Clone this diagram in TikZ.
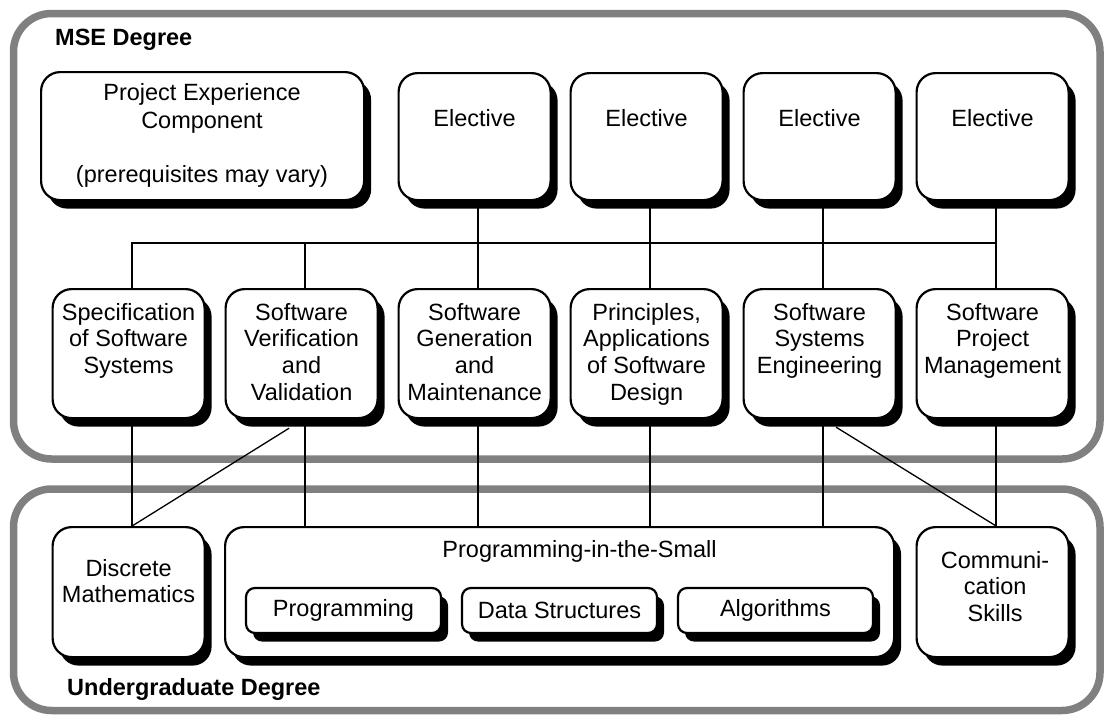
\documentclass[tikz,border=0pt]{standalone}
\usepackage{fontspec}
\setmainfont{Liberation Sans}
\usetikzlibrary{shadows,backgrounds}
\newcommand{\ml}[1]{\begin{tabular}[t]{@{}c@{}}#1\end{tabular}}
\begin{document}
\begin{tikzpicture}[x=1pt,y=-1pt,
  every node/.style={font=\fontsize{23.5}{26.7}\selectfont, inner sep=0pt},
  box/.style={draw=black, line width=2.2pt, fill=white, rounded corners=19pt,
    minimum width=152pt, minimum height=129pt, anchor=north west,
    drop shadow={shadow xshift=7pt, shadow yshift=-8.5pt, fill=black, opacity=1}},
  sbox/.style={box, rounded corners=9pt, minimum width=195pt, minimum height=45pt, anchor=center},
  txt/.style={anchor=base},
  frame/.style={draw=black!50, line width=7.5pt, rounded corners=38pt},
  conn/.style={line width=2pt},
  diag/.style={line width=1.3pt},
  lbl/.style={anchor=base west, font=\fontsize{23.5}{26.7}\selectfont\bfseries}
]
\useasboundingbox (0,0) rectangle (1104,715);

% top row
\node[box, minimum width=323pt, minimum height=128pt] (pec) at (40,71) {};
\node[box, minimum height=127pt] (e1) at (397.5,72) {};
\node[box, minimum height=127pt] (e2) at (569.5,72) {};
\node[box, minimum height=127pt] (e3) at (742.5,72) {};
\node[box, minimum height=127pt] (e4) at (915.5,72) {};

% middle row
\node[box] (spec) at (51.5,288) {};
\node[box] (ver)  at (224.5,288) {};
\node[box] (gen)  at (397.5,288) {};
\node[box] (prin) at (569.5,288) {};
\node[box] (sse)  at (742.5,288) {};
\node[box] (pm)   at (915.5,288) {};

% bottom row
\node[box, minimum height=130pt] (dm) at (51.5,526) {};
\node[box, minimum width=669pt, minimum height=130pt] (pits) at (224,526) {};
\node[box, minimum height=130pt] (cs) at (915.5,526) {};
\node[sbox] (prog) at (343.5,610.5) {Programming};
\node[sbox] (ds)   at (559.5,610.5) {Data Structures};
\node[sbox] (alg)  at (775.5,610.5) {Algorithms};

% texts
\node[txt] (tpec) at (202,100) {\ml{Project Experience\\[1.5pt]Component\\ \\[1pt](prerequisites may vary)}};
\foreach \n in {e1,e2,e3,e4}
  \node[txt] (t\n) at ([yshift=-54pt]\n.north) {Elective};
\node[txt] (tspec) at ([yshift=-32pt]spec.north) {\ml{Specification\\of Software\\Systems}};
\node[txt] (tver)  at ([yshift=-32pt]ver.north)  {\ml{Software\\Verification\\and\\Validation}};
\node[txt] (tgen)  at ([yshift=-32pt]gen.north)  {\ml{Software\\Generation\\and\\Maintenance}};
\node[txt] (tprin) at ([yshift=-32pt]prin.north) {\ml{Principles,\\Applications\\of Software\\Design}};
\node[txt] (tsse)  at ([yshift=-32pt]sse.north)  {\ml{Software\\Systems\\Engineering}};
\node[txt] (tpm)   at ([yshift=-32pt]pm.north)   {\ml{Software\\Project\\Management}};
\node[txt] (tdm)   at ([yshift=-50pt]dm.north)   {\ml{Discrete\\Mathematics}};
\node[txt] (tcs)   at ([shift={(2.5,42)}]cs.north) {\ml{Communi-\\cation\\Skills}};
\node[txt] (tpits) at ([shift={(20,31)}]pits.north) {Programming-in-the-Small};

\node[lbl] (mse) at (55,45) {MSE Degree};
\node[lbl] (ug) at (67,695) {Undergraduate Degree};

\begin{pgfonlayer}{background}
\draw[frame] (13.5,13.5) rectangle (1100,459);
\draw[frame] (13.5,489) rectangle (1100,710.5);

\draw[conn] ([xshift=3.5pt]spec.north) -- ++(0,-45) -| ([xshift=3.5pt]pm.north);
\draw[conn] ([xshift=3.5pt]ver.north) -- ++(0,-45);
\foreach \a/\b in {e1/gen,e2/prin,e3/sse,e4/pm}
  \draw[conn] ([xshift=3.5pt]\a.south) -- ([xshift=3.5pt]\b.north);
\draw[conn] ([xshift=3.5pt]spec.south) -- ([xshift=3.5pt]dm.north);
\foreach \a in {ver,gen,prin,sse}
  \draw[conn] ([xshift=3.5pt]\a.south) -- ([xshift=3.5pt]\a.south |- pits.north);
\draw[conn] ([xshift=3.5pt]pm.south) -- ([xshift=3.5pt]cs.north);
\draw[diag] ([shift={(-12.5,9)}]ver.south) -- ([xshift=3.5pt]dm.north);
\draw[diag] ([shift={(16.5,8)}]sse.south) -- ([xshift=3.5pt]cs.north);
\end{pgfonlayer}
\end{tikzpicture}
\end{document}
